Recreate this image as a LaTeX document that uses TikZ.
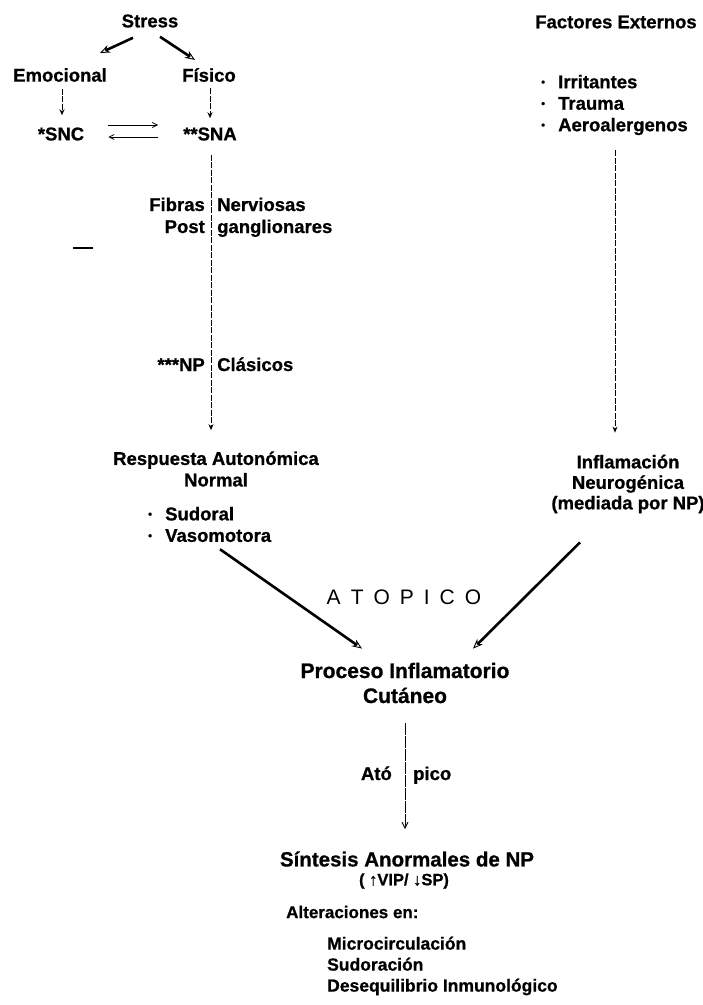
\documentclass[tikz,border=0pt]{standalone}
\usepackage{fontspec}
\setmainfont{Liberation Sans}[BoldFeatures={FakeBold=0.8}]
\usetikzlibrary{arrows.meta}
\newcommand{\bul}{\makebox[17pt][l]{\raisebox{2.5pt}{\fontsize{11}{11}\selectfont •}}}
\begin{document}
\begin{tikzpicture}[x=1pt,y=-1pt,
  lbl/.style={font=\fontsize{18.5}{21.5}\selectfont\bfseries, inner sep=0pt},
  big/.style={font=\fontsize{21}{25}\selectfont\bfseries, inner sep=0pt, align=center},
  heavy/.style={line width=2.6pt, -{Stealth[open,length=10pt,width=8pt,line width=0.9pt]}},
  dashv/.style={line width=0.9pt, dash pattern=on 6pt off 1.5pt, -{Stealth[length=6pt,width=5pt]}},
  thinarr/.style={line width=0.8pt, -{Straight Barb[length=5pt,width=5pt]}}]
\useasboundingbox (0,0) rectangle (703,1005);
\fill[white] (0,0) rectangle (703,1005);

% left column
\node[lbl] (stress) at (150,21) {Stress};
\node[lbl] (emo) at (60,75) {Emocional};
\node[lbl] (fis) at (209,75) {Físico};
\node[lbl] (snc) at (61,134) {*SNC};
\node[lbl] (sna) at (210,134) {**SNA};

\draw[heavy] ([xshift=-17pt,yshift=-10pt]stress.south) -- ([xshift=40pt,yshift=15pt]emo.north);
\draw[heavy] ([xshift=10pt,yshift=-9pt]stress.south) -- ([xshift=-14pt,yshift=8pt]fis.north);

\draw[dashv, shorten <=7pt, shorten >=12pt] ([xshift=2pt]emo.south) -- ([xshift=2pt]emo.south |- snc.north);
\draw[dashv, shorten <=6pt, shorten >=9pt] ([xshift=1pt]fis.south) -- ([xshift=1pt]fis.south |- sna.north);

\draw[thinarr] ([xshift=24pt,yshift=9pt]snc.east) -- ([xshift=-25pt,yshift=9pt]sna.west);
\draw[thinarr] ([xshift=-25pt,yshift=-3pt]sna.west) -- ([xshift=24pt,yshift=-3pt]snc.east);

\node[lbl, anchor=base east] (fibras) at (205,211) {Fibras};
\node[lbl, anchor=base east] (post) at (205,233) {Post};
\node[lbl, anchor=base west] (nerv) at (217,211) {Nerviosas};
\node[lbl, anchor=base west] (gang) at (217,233) {ganglionares};
\node[lbl, anchor=base east] (np) at (205,371) {***NP};
\node[lbl, anchor=base west] (clas) at (217,371) {Clásicos};
\draw[line width=1.2pt] (73,248) -- (93,248);

\node[lbl, align=center] (resp) at (216,469) {Respuesta Autonómica\\Normal};
\node[lbl, align=left, anchor=west] (rlist) at (148,524.5) {\bul Sudoral\\\bul Vasomotora};

\draw[dashv, shorten <=14pt, shorten >=21pt] ([xshift=1pt]sna.south) -- ([xshift=1pt]sna.south |- resp.north);

% right column
\node[lbl] (facext) at (616,22) {Factores Externos};
\node[lbl, align=left, anchor=west] (felist) at (541,105) {\bul Irritantes\\\bul Trauma\\\bul Aeroalergenos};
\node[lbl, align=center, font=\fontsize{18.5}{20.5}\selectfont\bfseries] (infl) at (628,484) {Inflamación\\Neurogénica\\(mediada por NP)};
\coordinate (rtop) at (615,150);
\draw[dashv, shorten >=22pt] (rtop) -- (rtop |- infl.north);

% centre
\node[font=\fontsize{21}{25}\selectfont, inner sep=0pt] (atop) at (404,597) {A\hspace{10pt}T\hspace{10pt}O\hspace{10pt}P\hspace{10pt}I\hspace{10pt}C\hspace{10pt}O};
\node[big] (proc) at (405,683) {Proceso Inflamatorio\\Cutáneo};

\draw[heavy] ([xshift=72pt,yshift=-7pt]rlist.south west) -- ([xshift=-43pt,yshift=14pt]proc.north);
\draw[heavy] ([xshift=-48pt,yshift=-29pt]infl.south) -- ([xshift=68pt,yshift=14pt]proc.north);

\node[lbl, anchor=base east] (ato) at (392,780) {Ató};
\node[lbl, anchor=base west] (pico) at (413,780) {pico};

\node[font=\fontsize{20.5}{24}\selectfont\bfseries, inner sep=0pt] (sint) at (407,859) {Síntesis Anormales de NP};
\node[font=\fontsize{16.5}{18}\selectfont\bfseries, inner sep=0pt] (vip) at (404,881) {( ↑VIP/ ↓SP)};
\draw[line width=0.9pt, dash pattern=on 12pt off 1pt, -{Straight Barb[length=6pt,width=6pt]}, shorten <=20pt, shorten >=22pt] (proc.south) -- (proc.south |- sint.north);

\node[font=\fontsize{17}{20}\selectfont\bfseries, inner sep=0pt, anchor=west] (alt) at (286,912) {Alteraciones en:};
\node[font=\fontsize{17.5}{21}\selectfont\bfseries, inner sep=0pt, align=left, anchor=west] (alist) at (327,966) {Microcirculación\\Sudoración\\Desequilibrio Inmunológico};
\end{tikzpicture}
\end{document}
